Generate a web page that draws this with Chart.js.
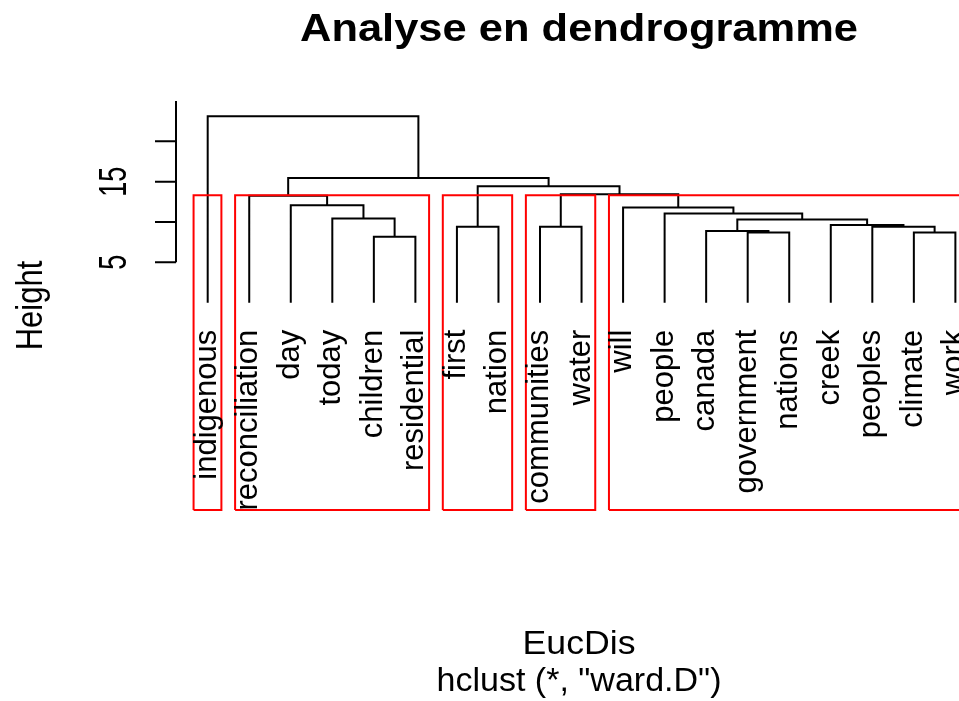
<!DOCTYPE html>
<html>
<head>
<meta charset="utf-8">
<script src="https://cdn.jsdelivr.net/npm/chart.js@4.4.1/dist/chart.umd.min.js"></script>
<style>
  html, body { margin: 0; padding: 0; background: #fff; }
  #wrap { width: 959px; height: 701px; }
</style>
</head>
<body>
<div id="wrap"><canvas id="dendro" width="959" height="701"></canvas></div>
<script>
// leaves in the order the dendrogram shows them
const leafLabels = ['indigenous', 'reconciliation', 'day', 'today', 'children', 'residential',
  'first', 'nation', 'communities', 'water', 'will', 'people', 'canada', 'government',
  'nations', 'creek', 'peoples', 'climate', 'work'];

// merge table like hclust: negative = leaf, positive = earlier merge row
const mergeLeft  = [-5, -14, -18, -13, -7, -9, -17, -16, 4, -4, -12, -11, -3, -2, 6, 5, 14, -1];
const mergeRight = [-6, -15, -19, 2, -8, -10, 3, 7, 8, 1, 9, 11, 10, 13, 12, 15, 16, 17];
const mergeHeight = [8.17, 8.71, 8.71, 8.87, 9.41, 9.41, 9.41, 9.62, 10.32, 10.45, 11.06,
  11.8, 12.09, 13.27, 13.45, 14.44, 15.47, 23.1];
const leafHeight = 0;

// rect.hclust(k = 5)
const clusterSizes = [1, 5, 2, 2, 9];
const cutHeight = 13.33;

const yTicks = [5, 10, 15, 20];
const yTickLabels = ['5', '', '15', ''];
const yAxisTop = 25;

const titleText = 'Analyse en dendrogramme';
const xLabel = 'EucDis';
const subLabel = 'hclust (*, "ward.D")';
const yLabel = 'Height';

const X_MIN = 0.237, X_MAX = 19.087;
const Y_MIN = -25.7, Y_MAX = 25;

// build the U shapes of the tree
function buildTree() {
    const pos = [], hgt = [];
    const pts = [];
    const where = id => id < 0 ? [-id, leafHeight] : [pos[id - 1], hgt[id - 1]];
    for (let i = 0; i < mergeHeight.length; i++) {
        const [xl, yl] = where(mergeLeft[i]);
        const [xr, yr] = where(mergeRight[i]);
        const h = mergeHeight[i];
        pts.push({x: xl, y: yl}, {x: xl, y: h}, {x: xr, y: h}, {x: xr, y: yr}, {x: xr, y: null});
        pos.push((xl + xr) / 2);
        hgt.push(h);
    }
    return pts;
}

function buildBoxes() {
    const pts = [];
    let m = 0;
    clusterSizes.forEach(n => {
        const l = m + 0.66, r = m + n + 0.33;
        pts.push({x: l, y: Y_MIN}, {x: l, y: cutHeight}, {x: r, y: cutHeight},
                 {x: r, y: Y_MIN}, {x: l, y: Y_MIN}, {x: l, y: null});
        m += n;
    });
    return pts;
}

function putText(ctx, str, x, y, o) {
    ctx.save();
    ctx.translate(x, y);
    if (o.rotate) ctx.rotate(-Math.PI / 2);
    ctx.font = o.font;
    let sx = o.sx || 1;
    if (o.fit) sx = o.fit / ctx.measureText(str).width;
    ctx.scale(sx, o.sy || 1);
    ctx.textAlign = o.align || 'center';
    ctx.textBaseline = 'alphabetic';
    ctx.fillStyle = '#000';
    ctx.fillText(str, 0, 0);
    ctx.restore();
}

const rPlot = {
    id: 'rPlot',
    afterDatasetsDraw(chart) {
        const ctx = chart.ctx;
        const xs = chart.scales.x, ys = chart.scales.y;
        const ax = chart.chartArea.left;

        // y axis
        ctx.save();
        ctx.strokeStyle = '#000';
        ctx.lineWidth = 2;
        ctx.beginPath();
        ctx.moveTo(ax, ys.getPixelForValue(yTicks[0]));
        ctx.lineTo(ax, ys.getPixelForValue(yAxisTop));
        yTicks.forEach(t => {
            const py = ys.getPixelForValue(t);
            ctx.moveTo(ax, py);
            ctx.lineTo(ax - 21, py);
        });
        ctx.stroke();
        ctx.restore();

        yTicks.forEach((t, i) => {
            if (!yTickLabels[i]) return;
            putText(ctx, yTickLabels[i], ax - 50, ys.getPixelForValue(t),
                {font: '27px "Liberation Sans", Arial, sans-serif', rotate: true, sy: 1.45});
        });

        // leaf labels
        const base = ys.getPixelForValue(leafHeight) + 27;
        leafLabels.forEach((lab, i) => {
            putText(ctx, lab, xs.getPixelForValue(i + 1) + 8, base,
                {font: '31px "Liberation Sans", Arial, sans-serif', rotate: true, align: 'right'});
        });

        const midY = (chart.chartArea.top + chart.chartArea.bottom) / 2;
        putText(ctx, yLabel, 42, midY,
            {font: '31px "Liberation Sans", Arial, sans-serif', rotate: true, sy: 1.2});

        putText(ctx, titleText, 579, 41,
            {font: 'bold 38px "Liberation Sans", Arial, sans-serif', fit: 558});
        putText(ctx, xLabel, 579, 654,
            {font: '34px "Liberation Sans", Arial, sans-serif', fit: 113});
        putText(ctx, subLabel, 579, 691,
            {font: '33px "Liberation Sans", Arial, sans-serif', fit: 285});
    }
};

new Chart(document.getElementById('dendro'), {
    type: 'scatter',
    data: {
        datasets: [{
            data: buildTree(),
            showLine: true,
            borderColor: '#000',
            borderWidth: 2,
            pointRadius: 0,
            spanGaps: false,
            order: 1
        }, {
            data: buildBoxes(),
            showLine: true,
            borderColor: '#ff0000',
            borderWidth: 2,
            pointRadius: 0,
            spanGaps: false,
            clip: false,
            order: 0
        }]
    },
    options: {
        responsive: false,
        animation: false,
        devicePixelRatio: 1,
        layout: { padding: { left: 176, top: 101, right: 0, bottom: 191 } },
        plugins: { legend: { display: false }, tooltip: { enabled: false } },
        scales: {
            x: { type: 'linear', min: X_MIN, max: X_MAX, display: false },
            y: { type: 'linear', min: Y_MIN, max: Y_MAX, display: false }
        }
    },
    plugins: [rPlot]
});
</script>
</body>
</html>
